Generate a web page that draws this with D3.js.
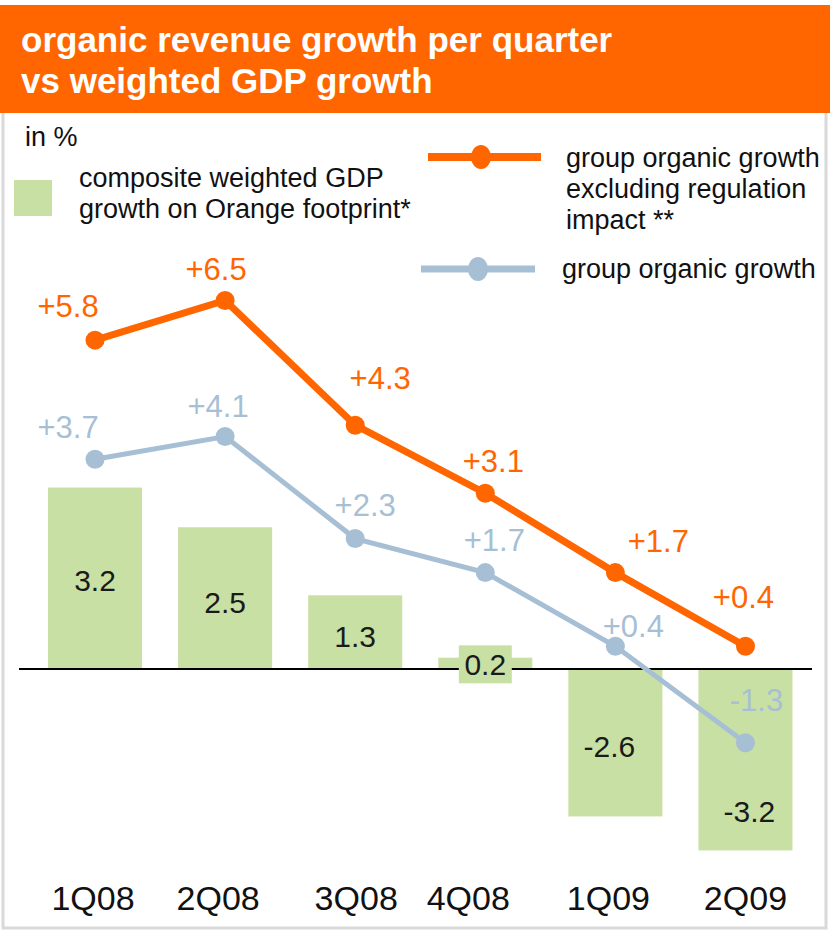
<!DOCTYPE html>
<html>
<head>
<meta charset="utf-8">
<script src="https://cdn.jsdelivr.net/npm/d3@7"></script>
<style>
  body { margin: 0; background: #fff; }
  text { font-family: "Liberation Sans", Arial, Helvetica, sans-serif; }
</style>
</head>
<body>
<div id="chart"></div>
<script>
// data
var quarters = ["1Q08", "2Q08", "3Q08", "4Q08", "1Q09", "2Q09"];
var gdpGrowth = [3.2, 2.5, 1.3, 0.2, -2.6, -3.2];
var growthExRegulation = [5.8, 6.5, 4.3, 3.1, 1.7, 0.4];
var groupGrowth = [3.7, 4.1, 2.3, 1.7, 0.4, -1.3];

// label nudges (layout only)
var orangeOffsets = [[-27, -34], [-9, -32], [25, -47], [8, -32], [43, -32], [-2, -49]];
var blueOffsets = [[-27, -32], [-7, -31], [10, -34], [9, -33], [18, -20], [11, -43]];
var barOffsets = [[0, 2], [0, 4], [0, 4], [0, 1], [-6, 3], [4, 51]];
var tickOffsets = [-2, -7, 1, -17, -7, 0];

var ORANGE = "#ff6600", BLUE = "#a7bfd4", GREEN = "#c9e0a4";

var W = 830, H = 931;
var svg = d3.select("#chart").append("svg").attr("width", W).attr("height", H);

// frame + header
svg.append("rect").attr("x", 3).attr("y", 100).attr("width", 823).attr("height", 828)
  .attr("fill", "none").attr("stroke", "#d9d9d9").attr("stroke-width", 3);
svg.append("rect").attr("x", 0).attr("y", 5).attr("width", W).attr("height", 108).attr("fill", ORANGE);
var title = svg.append("text").attr("fill", "#fff").attr("font-size", 35).attr("font-weight", "bold");
title.append("tspan").attr("x", 21).attr("y", 52).text("organic revenue growth per quarter");
title.append("tspan").attr("x", 21).attr("y", 93).text("vs weighted GDP growth");

svg.append("text").attr("x", 25).attr("y", 146).attr("font-size", 27).attr("fill", "#111").text("in %");

// scales
var x = d3.scaleBand().domain(quarters).range([30, 810.5]).paddingInner(0.277).paddingOuter(0.1385);
var y = d3.scaleLinear().domain([-3.5, 7]).range([867.45, 272.1]);
var cx = function (i) { return x(quarters[i]) + x.bandwidth() / 2; };

var rows = quarters.map(function (q, i) {
  return { q: q, i: i, gdp: gdpGrowth[i], ex: growthExRegulation[i], grp: groupGrowth[i] };
});

// bars
svg.selectAll("rect.bar").data(rows).enter().append("rect")
  .attr("class", "bar")
  .attr("x", function (d) { return x(d.q); })
  .attr("width", x.bandwidth())
  .attr("y", function (d) { return y(Math.max(0, d.gdp)); })
  .attr("height", function (d) { return Math.abs(y(d.gdp) - y(0)); })
  .attr("fill", GREEN);

// zero line
svg.append("line").attr("x1", 19).attr("x2", 812).attr("y1", y(0)).attr("y2", y(0))
  .attr("stroke", "#000").attr("stroke-width", 2);

// bar labels
var barLabels = svg.selectAll("g.blab").data(rows).enter().append("g").attr("class", "blab")
  .attr("transform", function (d) {
    var o = barOffsets[d.i];
    return "translate(" + (cx(d.i) + o[0]) + "," + ((y(d.gdp) + y(0)) / 2 + o[1]) + ")";
  });
barLabels.filter(function (d) { return d.i === 3; }).append("rect")
  .attr("x", -26.5).attr("y", -19).attr("width", 53).attr("height", 38).attr("fill", GREEN);
barLabels.append("text")
  .attr("text-anchor", "middle").attr("dy", "0.36em").attr("font-size", 30).attr("fill", "#1a1a1a")
  .text(function (d) { return d.gdp.toFixed(1); });

// lines
function drawSeries(key, color, width, offsets) {
  var line = d3.line().x(function (d) { return cx(d.i); }).y(function (d) { return y(d[key]); });
  svg.append("path").datum(rows).attr("d", line).attr("fill", "none")
    .attr("stroke", color).attr("stroke-width", width);
  svg.selectAll("circle." + key).data(rows).enter().append("circle").attr("class", key)
    .attr("cx", function (d) { return cx(d.i); })
    .attr("cy", function (d) { return y(d[key]); })
    .attr("r", 9.5).attr("fill", color);
  svg.selectAll("text." + key).data(rows).enter().append("text").attr("class", key)
    .attr("x", function (d) { return cx(d.i) + offsets[d.i][0]; })
    .attr("y", function (d) { return y(d[key]) + offsets[d.i][1]; })
    .attr("dy", "0.36em").attr("text-anchor", "middle").attr("font-size", 31).attr("fill", color)
    .text(function (d) { return (d[key] > 0 ? "+" : "") + d[key].toFixed(1); });
}
drawSeries("grp", BLUE, 5, blueOffsets);
drawSeries("ex", ORANGE, 7, orangeOffsets);

// x axis labels
var xAxis = d3.axisBottom(x).tickSize(0).tickPadding(0);
var gx = svg.append("g").attr("transform", "translate(0,886)").call(xAxis);
gx.select(".domain").remove();
gx.selectAll("text")
  .attr("font-size", 34).attr("fill", "#111").attr("dy", "0.71em")
  .attr("x", function (d, i) { return tickOffsets[i]; })
  .style("font-family", "'Liberation Sans', Arial, Helvetica, sans-serif");

// legend
svg.append("rect").attr("x", 14).attr("y", 180).attr("width", 38).attr("height", 36).attr("fill", GREEN);
var lg1 = svg.append("text").attr("font-size", 27).attr("fill", "#111");
lg1.append("tspan").attr("x", 79).attr("y", 187).text("composite weighted GDP");
lg1.append("tspan").attr("x", 79).attr("y", 218).text("growth on Orange footprint*");

svg.append("line").attr("x1", 428).attr("x2", 541).attr("y1", 157).attr("y2", 157)
  .attr("stroke", ORANGE).attr("stroke-width", 8);
svg.append("ellipse").attr("cx", 481).attr("cy", 157).attr("rx", 10).attr("ry", 12).attr("fill", ORANGE);
var lg2 = svg.append("text").attr("font-size", 27).attr("fill", "#111");
lg2.append("tspan").attr("x", 566).attr("y", 167).text("group organic growth");
lg2.append("tspan").attr("x", 566).attr("y", 198).text("excluding regulation");
lg2.append("tspan").attr("x", 566).attr("y", 229).text("impact **");

svg.append("line").attr("x1", 421).attr("x2", 535).attr("y1", 269).attr("y2", 269)
  .attr("stroke", BLUE).attr("stroke-width", 7);
svg.append("ellipse").attr("cx", 478).attr("cy", 269).attr("rx", 10).attr("ry", 12).attr("fill", BLUE);
svg.append("text").attr("x", 562).attr("y", 278).attr("font-size", 27).attr("fill", "#111")
  .text("group organic growth");
</script>
</body>
</html>
